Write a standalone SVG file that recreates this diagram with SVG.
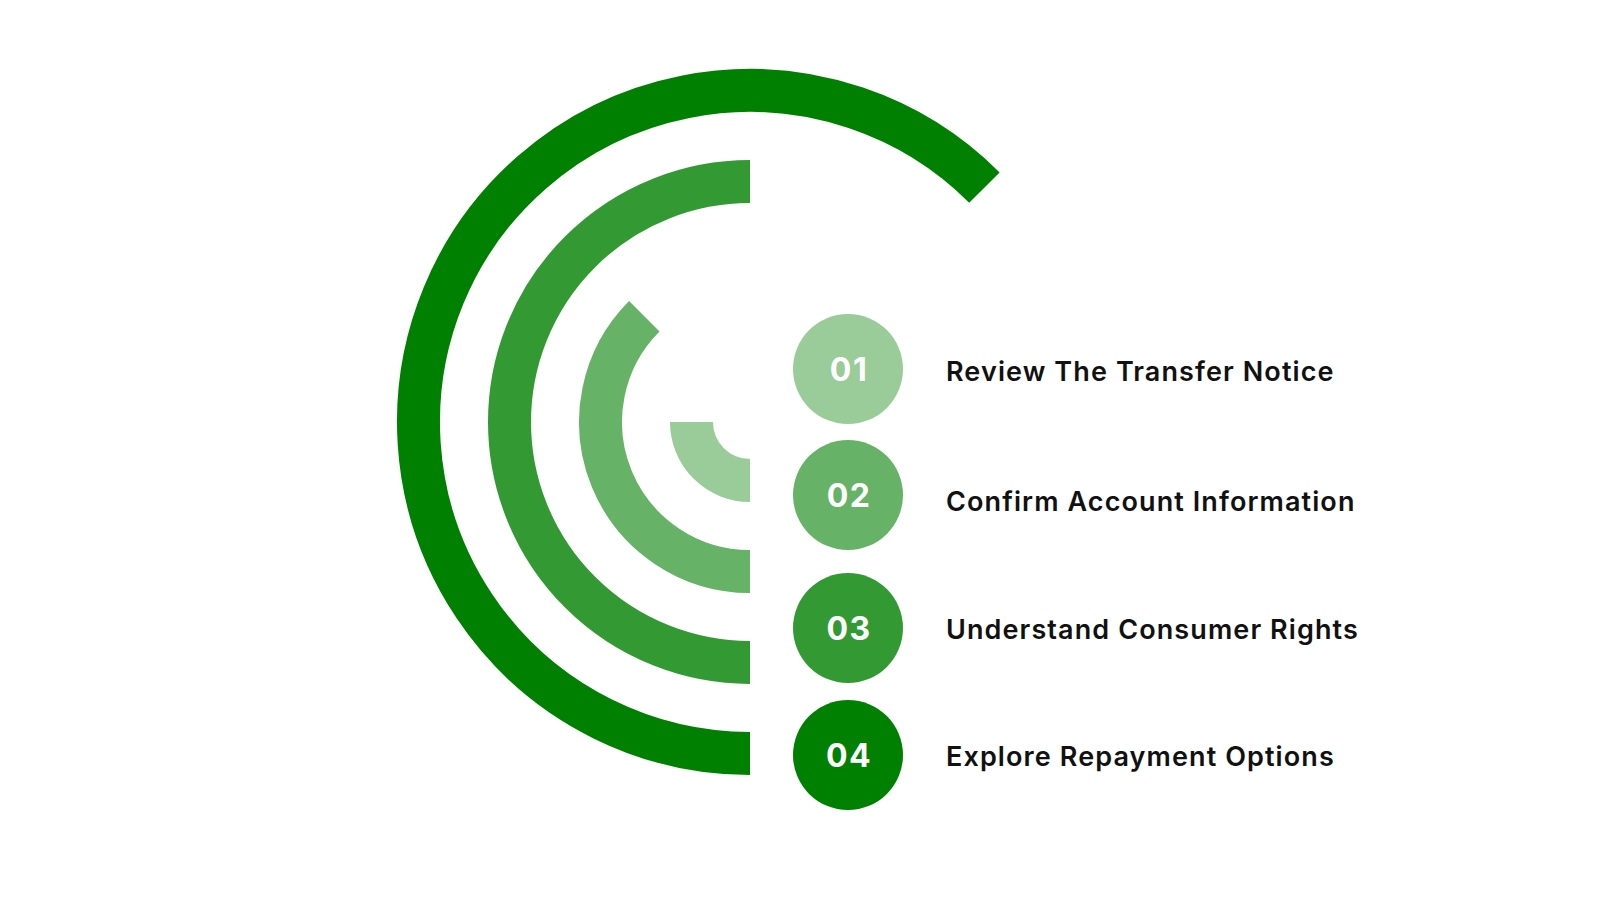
<svg xmlns="http://www.w3.org/2000/svg" width="1600" height="900" viewBox="0 0 1600 900">
<style>
.arc{fill:none;stroke-width:43;stroke-linecap:butt}
.num{font-family:Inter,"Noto Sans","Liberation Sans",sans-serif;font-size:32px;font-weight:700;fill:#ffffff;text-anchor:middle;letter-spacing:1.5px}
.lbl{font-family:Inter,"Noto Sans","Liberation Sans",sans-serif;font-size:27px;font-weight:600;fill:#111111;letter-spacing:1.1px}
.c1{fill:#99cc99}.c2{fill:#66b266}.c3{fill:#339933}.c4{fill:#008000}
</style>
<rect width="1600" height="900" fill="#ffffff"/>
<g id="arcs">
<path class="arc" stroke="#008000" d="M750 753.5 A331.5 331.5 0 1 1 984.4 187.6"/>
<path class="arc" stroke="#339933" d="M750 662.5 A240.5 240.5 0 0 1 509.5 422 A240.5 240.5 0 0 1 750 181.5"/>
<path class="arc" stroke="#66b266" d="M750 571.5 A149.5 149.5 0 0 1 644.3 316.3"/>
<path class="arc" stroke="#99cc99" d="M750 480.5 A58.5 58.5 0 0 1 691.5 422"/>
</g>
<g id="step1">
<circle class="c1" cx="848" cy="369" r="55"/>
<text class="num" x="849" y="380.5">01</text>
<text class="lbl" x="946" y="381">Review The Transfer Notice</text>
</g>
<g id="step2">
<circle class="c2" cx="848" cy="495" r="55"/>
<text class="num" x="849" y="506.5">02</text>
<text class="lbl" x="946" y="511">Confirm Account Information</text>
</g>
<g id="step3">
<circle class="c3" cx="848" cy="628" r="55"/>
<text class="num" x="849" y="639.5">03</text>
<text class="lbl" x="946" y="639">Understand Consumer Rights</text>
</g>
<g id="step4">
<circle class="c4" cx="848" cy="755" r="55"/>
<text class="num" x="849" y="766.5">04</text>
<text class="lbl" x="946" y="766">Explore Repayment Options</text>
</g>
</svg>
